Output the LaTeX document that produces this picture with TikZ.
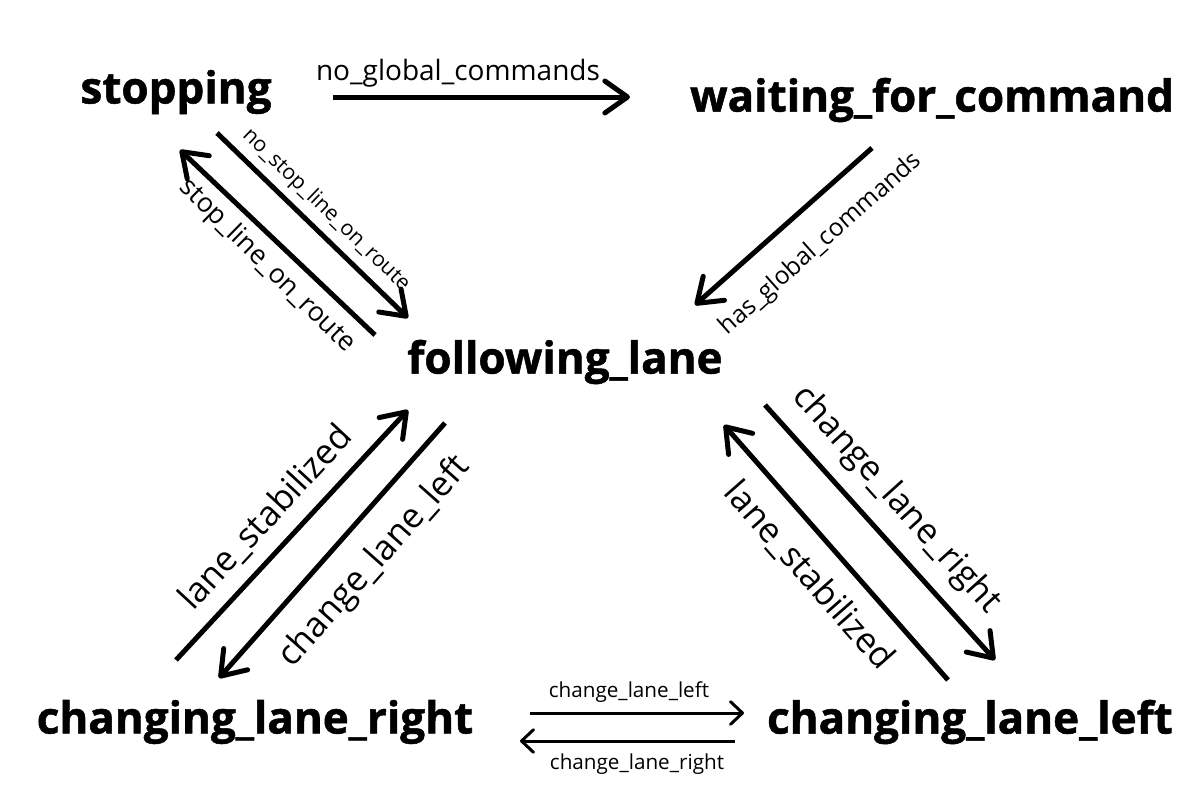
\documentclass[tikz,border=0pt]{standalone}
\usepackage{fontspec}
\setmainfont{Open Sans}[BoldFeatures={FakeBold=1.2}]
\usetikzlibrary{arrows.meta}
\begin{document}
\begin{tikzpicture}[x=0.75pt,y=-0.75pt,
  state/.style={font=\bfseries\fontsize{33}{38}\selectfont, inner sep=0pt, anchor=center},
  lbl/.style={inner sep=0pt, anchor=center},
  big/.style={line width=3.75pt, -{Straight Barb[length=17pt,width=24pt,round]}},
  small/.style={line width=2.25pt, -{Straight Barb[length=9pt,width=17pt,round]}}]
\useasboundingbox (0,0) rectangle (1200,800);

% states
\node[state] (stop) at (176,92) {stopping};
\node[state] (wait) at (932,100) {waiting\_for\_command};
\node[state] (follow) at (565,362) {following\_lane};
\node[state] (clr) at (255,722) {changing\_lane\_right};
\node[state] (cll) at (970,722) {changing\_lane\_left};

% connector end points
\coordinate (a1) at (333,97);  \coordinate (a2) at (630,97);
\coordinate (b1) at (217,133); \coordinate (b2) at (408,318);
\coordinate (c1) at (375,335); \coordinate (c2) at (180,150);
\coordinate (d1) at (872,148); \coordinate (d2) at (695,305);
\coordinate (e1) at (445,423); \coordinate (e2) at (219,678);
\coordinate (f1) at (176,660); \coordinate (f2) at (408,410);
\coordinate (g1) at (765,405); \coordinate (g2) at (995,660);
\coordinate (h1) at (948,680); \coordinate (h2) at (724,425);
\coordinate (i1) at (530,713); \coordinate (i2) at (744,713);
\coordinate (j1) at (735,741); \coordinate (j2) at (520,741);

\draw[big] (a1) -- (a2);
\draw[big] (b1) -- (b2);
\draw[big] (c1) -- (c2);
\draw[big] (d1) -- (d2);
\draw[big] (e1) -- (e2);
\draw[big] (f1) -- (f2);
\draw[big] (g1) -- (g2);
\draw[big] (h1) -- (h2);
\draw[small] (i1) -- (i2);
\draw[small] (j1) -- (j2);

% labels
\node[lbl, font=\fontsize{21}{24}\selectfont] (la) at (458,73) {no\_global\_commands};
\node[lbl, font=\fontsize{16}{19}\selectfont, rotate=-44] (lb) at (326,210) {no\_stop\_line\_on\_route};
\node[lbl, font=\fontsize{20}{23}\selectfont, rotate=-44.5] (lc) at (267,266) {stop\_line\_on\_route};
\node[lbl, font=\fontsize{18.5}{21}\selectfont, rotate=41.6] (ld) at (821,244) {has\_global\_commands};
\node[lbl, font=\fontsize{26}{30}\selectfont, rotate=48.4] (le) at (375,562) {change\_lane\_left};
\node[lbl, font=\fontsize{26}{30}\selectfont, rotate=47.1] (lf) at (266,518) {lane\_stabilized};
\node[lbl, font=\fontsize{26}{30}\selectfont, rotate=-47.9] (lg) at (896,500) {change\_lane\_right};
\node[lbl, font=\fontsize{26}{30}\selectfont, rotate=-48.7] (lh) at (809,576) {lane\_stabilized};
\node[lbl, font=\fontsize{15.5}{18}\selectfont] (li) at (629,692) {change\_lane\_left};
\node[lbl, font=\fontsize{15.5}{18}\selectfont] (lj) at (637,764) {change\_lane\_right};
\end{tikzpicture}
\end{document}
